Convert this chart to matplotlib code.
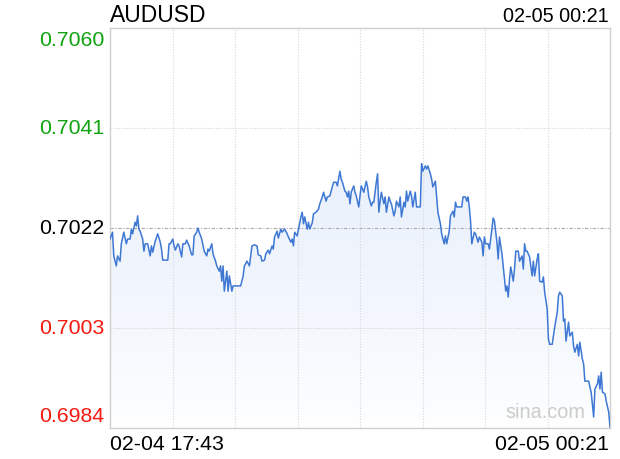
import numpy as np
import matplotlib
matplotlib.use("Agg")
import matplotlib.pyplot as plt
from matplotlib.patches import Polygon

plt.rcParams['font.family'] = ['Liberation Sans', 'DejaVu Sans']

# minutes after 02-04 17:43 and the AUDUSD price at that minute
minutes = [0, 2, 3, 5, 6, 8, 9, 11, 13, 14, 16, 17, 18, 20, 21, 22, 23, 24, 26, 27,
           28, 30, 32, 33, 34, 36, 38, 40, 41, 42, 46, 47, 48, 50, 51, 52, 54, 55, 57, 58,
           60, 61, 63, 65, 66, 67, 69, 70, 71, 73, 75, 77, 78, 79, 81, 82, 84, 85, 87, 88,
           89, 90, 91, 93, 94, 95, 97, 98, 100, 104, 106, 107, 109, 111, 113, 115, 117, 118, 120, 121,
           123, 124, 126, 127, 129, 130, 131, 133, 134, 136, 137, 139, 141, 142, 144, 145, 146, 147, 149, 150,
           152, 153, 154, 155, 157, 158, 159, 161, 162, 164, 166, 167, 169, 170, 172, 173, 175, 176, 178, 180,
           181, 183, 184, 185, 187, 188, 189, 190, 191, 192, 194, 195, 196, 198, 199, 200, 202, 204, 205, 206,
           208, 209, 210, 212, 213, 214, 215, 216, 218, 219, 220, 222, 223, 224, 226, 227, 228, 230, 231, 232,
           234, 235, 236, 237, 239, 240, 241, 243, 244, 247, 248, 249, 251, 252, 253, 255, 256, 257, 259, 260,
           261, 263, 264, 265, 266, 267, 268, 270, 271, 273, 274, 275, 276, 280, 281, 283, 284, 285, 286, 287,
           288, 290, 291, 293, 294, 296, 297, 298, 299, 301, 302, 304, 305, 306, 308, 309, 310, 312, 313, 314,
           315, 316, 317, 318, 319, 321, 322, 323, 325, 326, 328, 329, 330, 331, 332, 334, 336, 337, 338, 340,
           341, 342, 344, 345, 346, 348, 349, 350, 352, 354, 356, 357, 358, 360, 361, 362, 363, 365, 366, 368,
           369, 370, 372, 373, 374, 376, 377, 378, 381, 382, 383, 385, 386, 388, 389, 390, 391, 392, 394, 395,
           397, 398]
prices = [0.70199, 0.70212, 0.70167, 0.70148, 0.70167, 0.70157, 0.70190, 0.70212, 0.70190, 0.70199,
          0.70199, 0.70218, 0.70209, 0.70231, 0.70224, 0.70243, 0.70218, 0.70214, 0.70199, 0.70176,
          0.70190, 0.70190, 0.70167, 0.70186, 0.70174, 0.70195, 0.70209, 0.70193, 0.70180, 0.70159,
          0.70159, 0.70190, 0.70190, 0.70199, 0.70186, 0.70178, 0.70190, 0.70186, 0.70165, 0.70190,
          0.70190, 0.70197, 0.70186, 0.70169, 0.70169, 0.70205, 0.70212, 0.70220, 0.70212, 0.70199,
          0.70176, 0.70167, 0.70180, 0.70176, 0.70190, 0.70171, 0.70157, 0.70148, 0.70138, 0.70148,
          0.70119, 0.70148, 0.70100, 0.70138, 0.70100, 0.70129, 0.70100, 0.70110, 0.70110, 0.70110,
          0.70129, 0.70148, 0.70157, 0.70148, 0.70186, 0.70188, 0.70186, 0.70169, 0.70167, 0.70157,
          0.70159, 0.70171, 0.70178, 0.70171, 0.70186, 0.70180, 0.70203, 0.70214, 0.70201, 0.70218,
          0.70212, 0.70218, 0.70209, 0.70203, 0.70193, 0.70199, 0.70186, 0.70212, 0.70205, 0.70218,
          0.70241, 0.70250, 0.70228, 0.70241, 0.70218, 0.70231, 0.70218, 0.70230, 0.70247, 0.70250,
          0.70256, 0.70266, 0.70279, 0.70288, 0.70271, 0.70279, 0.70281, 0.70290, 0.70307, 0.70307,
          0.70300, 0.70328, 0.70313, 0.70307, 0.70290, 0.70288, 0.70279, 0.70290, 0.70266, 0.70288,
          0.70300, 0.70288, 0.70281, 0.70260, 0.70281, 0.70300, 0.70288, 0.70309, 0.70298, 0.70279,
          0.70262, 0.70269, 0.70269, 0.70307, 0.70323, 0.70250, 0.70271, 0.70288, 0.70266, 0.70279,
          0.70250, 0.70279, 0.70271, 0.70266, 0.70243, 0.70252, 0.70271, 0.70260, 0.70279, 0.70241,
          0.70269, 0.70260, 0.70290, 0.70271, 0.70290, 0.70281, 0.70260, 0.70288, 0.70260, 0.70260,
          0.70342, 0.70328, 0.70338, 0.70332, 0.70338, 0.70323, 0.70313, 0.70298, 0.70309, 0.70279,
          0.70250, 0.70228, 0.70209, 0.70199, 0.70190, 0.70205, 0.70190, 0.70214, 0.70243, 0.70252,
          0.70241, 0.70269, 0.70260, 0.70260, 0.70279, 0.70279, 0.70271, 0.70279, 0.70260, 0.70233,
          0.70190, 0.70212, 0.70209, 0.70193, 0.70203, 0.70193, 0.70167, 0.70203, 0.70190, 0.70190,
          0.70180, 0.70218, 0.70239, 0.70233, 0.70193, 0.70161, 0.70203, 0.70171, 0.70148, 0.70123,
          0.70100, 0.70110, 0.70089, 0.70123, 0.70146, 0.70119, 0.70142, 0.70176, 0.70176, 0.70157,
          0.70167, 0.70142, 0.70190, 0.70176, 0.70176, 0.70165, 0.70129, 0.70157, 0.70129, 0.70161,
          0.70171, 0.70119, 0.70117, 0.70127, 0.70098, 0.70066, 0.70009, 0.69999, 0.69999, 0.70032,
          0.70060, 0.70091, 0.70098, 0.70091, 0.70043, 0.70047, 0.70005, 0.70041, 0.70015, 0.70022,
          0.69996, 0.69984, 0.69999, 0.69977, 0.70003, 0.69971, 0.69962, 0.69929, 0.69929, 0.69918,
          0.69908, 0.69861, 0.69914, 0.69924, 0.69939, 0.69914, 0.69946, 0.69908, 0.69905, 0.69891,
          0.69870, 0.69842]

y_ticks = [0.7060, 0.7041, 0.7022, 0.7003, 0.6984]
prev_close = 0.7022
symbol = "AUDUSD"
start_label = "02-04 17:43"
end_label = "02-05 00:21"
total_minutes = 398

minutes = np.array(minutes)
prices = np.array(prices)
ymin, ymax = y_ticks[-1], y_ticks[0]

fig = plt.figure(figsize=(6.2, 4.6), dpi=100)
ax = fig.add_axes([110 / 620, 1 - 429 / 460, 500 / 620, 400 / 460])

# gradient fill under the line, clipped to the area below the price
t = np.linspace(0, 1, 256).reshape(-1, 1)
img = np.ones((256, 1, 4))
img[:, :, 0] = 0.885
img[:, :, 1] = 0.922
img[:, :, 2] = 0.985
img[:, :, 3] = (1 - t) ** 0.75
im = ax.imshow(img, extent=[0, total_minutes, ymin, ymax], aspect='auto',
               origin='upper', zorder=1)
poly_xy = np.column_stack([np.r_[minutes, minutes[-1], minutes[0]],
                           np.r_[prices, ymin, ymin]])
clip = Polygon(poly_xy, closed=True, facecolor='none', edgecolor='none')
ax.add_patch(clip)
im.set_clip_path(clip)

ax.plot(minutes, prices, color='#3f78d4', lw=1.1, zorder=3)
ax.set_xlim(0, total_minutes)
ax.set_ylim(ymin, ymax)

# grid
for k in range(1, 8):
    ax.axvline(total_minutes * k / 8, color='#d6d6d6', lw=0.8, ls=(0, (1, 1.5)), zorder=2)
for v in y_ticks[1:-1]:
    if v == prev_close:
        ax.axhline(v, color='#a8a8a8', lw=0.8, ls=(0, (3, 1.5, 1, 1.5)), zorder=2)
    else:
        ax.axhline(v, color='#d6d6d6', lw=0.8, ls=(0, (1, 1.5)), zorder=2)

for s in ax.spines.values():
    s.set_color('#d0d0d0')
    s.set_linewidth(1.0)
ax.set_xticks([])
ax.set_yticks([])

# y labels coloured against the previous close
for i, v in enumerate(y_ticks):
    if v > prev_close:
        c = '#0fa30f'
    elif v < prev_close:
        c = '#f21a0f'
    else:
        c = 'black'
    va = 'center'
    yy = v
    if i == 0:
        va = 'top'
        yy = v - 0.00004
    elif i == len(y_ticks) - 1:
        va = 'bottom'
        yy = v + 0.00006
    ax.text(-0.012, yy, f"{v:.4f}", transform=ax.get_yaxis_transform(),
            ha='right', va=va, color=c, fontsize=15.3)

fig.text(110 / 620, 1 - 16 / 460, symbol, ha='left', va='center', fontsize=16.5)
fig.text(609 / 620, 1 - 16 / 460, end_label, ha='right', va='center', fontsize=14.3)
fig.text(110 / 620, 1 - 445 / 460, start_label, ha='left', va='center', fontsize=15.3)
fig.text(609 / 620, 1 - 445 / 460, end_label, ha='right', va='center', fontsize=15.3)
fig.text(585 / 620, 1 - 413 / 460, "sina.com", ha='right', va='center', fontsize=14.3,
         color='#cccccc')

fig.savefig("out.png", dpi=100)
